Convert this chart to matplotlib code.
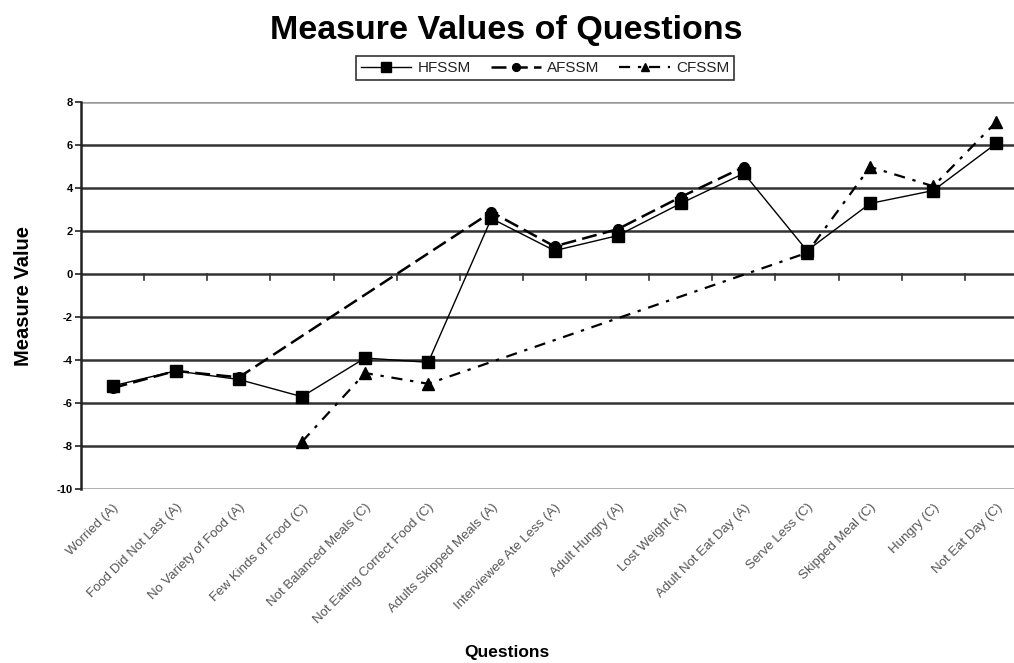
import matplotlib
matplotlib.use("Agg")
import matplotlib.pyplot as plt
import numpy as np

questions = ["Worried (A)", "Food Did Not Last (A)", "No Variety of Food (A)",
             "Few Kinds of Food (C)", "Not Balanced Meals (C)", "Not Eating Correct Food (C)",
             "Adults Skipped Meals (A)", "Interviewee Ate Less (A)", "Adult Hungry (A)",
             "Lost Weight (A)", "Adult Not Eat Day (A)", "Serve Less (C)",
             "Skipped Meal (C)", "Hungry (C)", "Not Eat Day (C)"]

hfssm = [-5.2, -4.5, -4.9, -5.7, -3.9, -4.1, 2.6, 1.1, 1.8, 3.3, 4.7, 1.1, 3.3, 3.9, 6.1]

# adult scale only has the (A) questions
afssm_idx = [0, 1, 2, 6, 7, 8, 9, 10]
afssm = [-5.3, -4.5, -4.8, 2.9, 1.3, 2.1, 3.6, 5.0]

# child scale only has the (C) questions
cfssm_idx = [3, 4, 5, 11, 12, 13, 14]
cfssm = [-7.8, -4.6, -5.1, 1.0, 5.0, 4.1, 7.1]

plt.rcParams['font.family'] = ['Liberation Sans', 'DejaVu Sans']

fig = plt.figure(figsize=(10.14, 6.63), dpi=100)
ax = fig.add_axes([81/1014, 174/663, 947/1014, 386.5/663])

x = np.arange(len(questions))
ax.set_xlim(-0.5, len(questions) - 0.5)
ax.set_ylim(-10, 8)

# gridlines
for v in range(-8, 8, 2):
    ax.axhline(v, color="#333333", lw=1.8, zorder=1)
ax.axhline(8, color="#999999", lw=1.8, zorder=1)
ax.axhline(-10, color="#999999", lw=1.8, zorder=1)

# category tick marks sitting on the zero line
for b in np.arange(0.5, len(questions) - 0.5, 1):
    ax.plot([b, b], [0, -0.25], color="#333333", lw=1.2, zorder=1)

ax.plot(x, hfssm, color="black", lw=1, ls="-", marker="s", ms=9,
        label="HFSSM", zorder=3)
ax.plot(afssm_idx, afssm, color="black", lw=1.8, ls=(0, (6, 2.5)), marker="o", ms=7,
        label="AFSSM", zorder=3)
ax.plot(cfssm_idx, cfssm, color="black", lw=1.6, ls=(0, (5, 3.5, 1.5, 3.5)), marker="^", ms=8,
        label="CFSSM", zorder=3)

for s in ["top", "right", "bottom"]:
    ax.spines[s].set_visible(False)
ax.spines["left"].set_color("#222222")
ax.spines["left"].set_linewidth(1.8)

ax.set_yticks(range(-10, 9, 2))
ax.set_yticklabels([str(v) for v in range(-10, 9, 2)], fontsize=8, fontweight="bold")
ax.tick_params(axis="y", length=4, width=1.2, color="#222222", pad=2)

ax.set_xticks(x)
ax.set_xticklabels(questions, rotation=45, ha="right", va="top", rotation_mode="anchor",
                   fontsize=9.5, color="#555555")
ax.tick_params(axis="x", length=0, pad=9)

ax.set_ylabel("Measure Value", fontsize=14.5, fontweight="bold")
ax.yaxis.set_label_coords(-48/947, 0.5)
fig.text(507/1014, 1 - 653/663, "Questions", ha="center", va="center",
         fontsize=12.5, fontweight="bold")
fig.text(506/1014, 1 - 31/663, "Measure Values of Questions", ha="center", va="center",
         fontsize=24.5, fontweight="bold")

leg = fig.legend(loc="center", bbox_to_anchor=(545/1014, 1 - 68/663), ncol=3,
                 frameon=True, fancybox=False, edgecolor="black", fontsize=11,
                 handlelength=3.3, columnspacing=1.3, handletextpad=0.4,
                 borderpad=0.35, markerscale=0.8)
leg.get_frame().set_linewidth(1.2)
for t in leg.get_texts():
    t.set_color("#222222")

fig.savefig("out.png", dpi=100)
